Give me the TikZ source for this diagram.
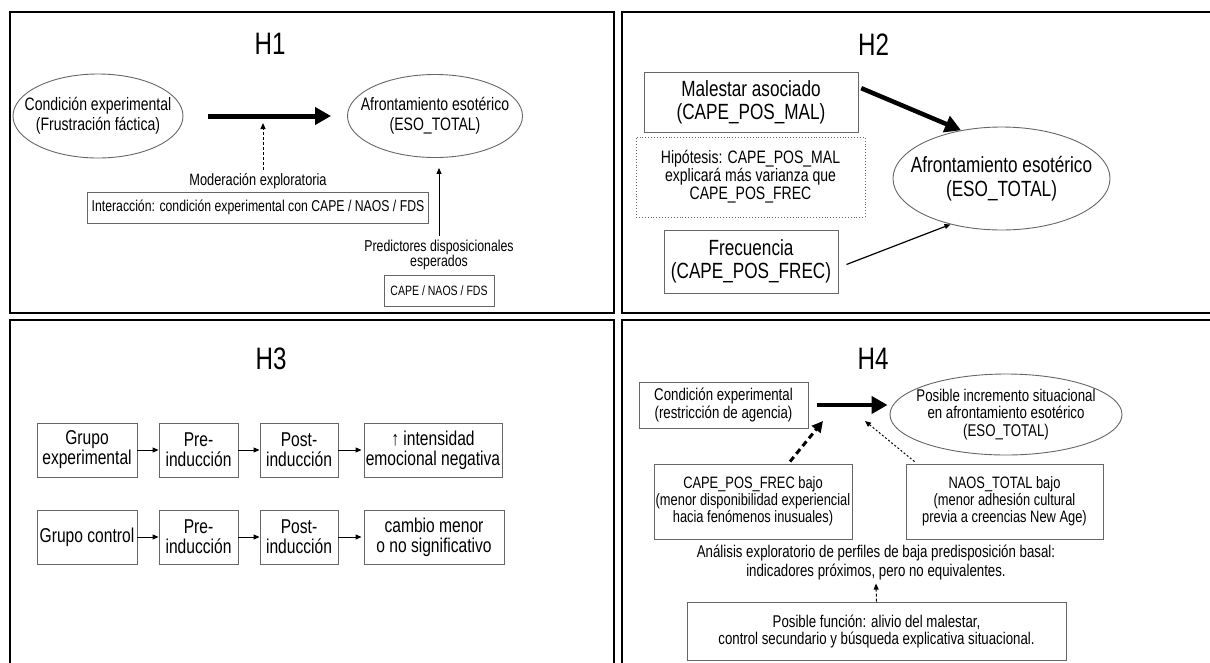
\documentclass[tikz,border=0pt]{standalone}
\usepackage{fontspec}
\setmainfont{Liberation Sans}[FakeStretch=0.78]
\usetikzlibrary{arrows.meta,shapes.geometric}

\begin{document}
\begin{tikzpicture}[
			x=1pt, y=-1pt,
			panel/.style={draw, line width=2.5pt},
			title/.style={font=\fontsize{31}{31}\selectfont},
			box/.style={draw=black!60, line width=0.9pt, align=center, inner sep=0pt},
			oval/.style={ellipse, draw=black!60, line width=0.9pt, inner sep=0pt},
			ovaltext/.style={align=center, inner sep=0pt},
			arr/.style={-{Triangle[length=6pt,width=5pt]}, line width=1pt},
			bigarr/.style={-{Triangle[length=16pt,width=17pt]}, line width=5pt},
			dasharr/.style={arr, dash pattern=on 3pt off 2pt},
			thickdash/.style={-{Triangle[length=11pt,width=11pt]}, line width=3pt, dash pattern=on 6pt off 4pt}
		]
		\useasboundingbox (0,0) rectangle (1210,662);
		\clip (0,0) rectangle (1210,662);

		% H1
		\draw[panel] (10,12) rectangle (614,313);
		\node[title] (t1) at (270,44) {H1};
		\node[oval, minimum width=170pt, minimum height=84pt] (cond1) at (98,116) {};
		\node[ovaltext, font=\fontsize{18}{20}\selectfont] (cond1txt) at (cond1) {Condición experimental\\(Frustración fáctica)};
		\node[oval, minimum width=175pt, minimum height=83pt] (eso1) at (435,116) {};
		\node[ovaltext, font=\fontsize{18}{20}\selectfont] (eso1txt) at (eso1) {Afrontamiento esotérico\\(ESO\_TOTAL)};
		\draw[bigarr, shorten <=25pt, shorten >=16pt] (cond1) -- (eso1);
		\node[font=\fontsize{16.4}{18}\selectfont] (mod1) at (258,181) {Moderación exploratoria};
		\coordinate (mod1tip) at (263,123);
		\draw[dasharr] (mod1.north -| mod1tip) -- (mod1tip);
		\node[box, minimum width=341pt, minimum height=31pt, font=\fontsize{15.7}{18}\selectfont] (int1) at (258,207.5) {Interacción: condición experimental con CAPE / NAOS / FDS};
		\node[align=center, font=\fontsize{15.8}{15}\selectfont] (pred1) at (439,254.5) {Predictores disposicionales\\esperados};
		\draw[arr, shorten >=10pt] (pred1.north) -- (pred1.north |- eso1.south);
		\node[box, minimum width=110pt, minimum height=31pt, font=\fontsize{13.5}{15}\selectfont] (cape1) at (439,290.5) {CAPE / NAOS / FDS};

		% H2
		\draw[panel] (622,12) rectangle (1240,313);
		\node[title] (t2) at (873.5,45) {H2};
		\node[box, minimum width=214pt, minimum height=60pt, font=\fontsize{22}{23}\selectfont] (mal2) at (751,102) {Malestar asociado\\(CAPE\_POS\_MAL)};
		\node[box, dotted, minimum width=229pt, minimum height=80pt, font=\fontsize{18}{18}\selectfont] (hyp2) at (750.5,177) {Hipótesis: CAPE\_POS\_MAL\\explicará más varianza que\\CAPE\_POS\_FREC};
		\node[box, minimum width=174pt, minimum height=63pt, font=\fontsize{22}{23}\selectfont] (frec2) at (751,261.5) {Frecuencia\\(CAPE\_POS\_FREC)};
		\node[oval, minimum width=217pt, minimum height=103pt] (eso2) at (1001.5,178.5) {};
		\node[ovaltext, font=\fontsize{22}{24}\selectfont] (eso2txt) at (eso2) {Afrontamiento esotérico\\(ESO\_TOTAL)};
		\draw[bigarr, line width=4.5pt, shorten <=3pt] ([yshift=15pt]mal2.east) -- (eso2.130);
		\draw[arr, line width=1.2pt] ([xshift=8pt,yshift=-3pt]frec2.east) -- (eso2.222);

		% H3
		\draw[panel] (10,320) rectangle (614,700);
		\node[title] (t3) at (271,359) {H3};
		\begin{scope}[every node/.style={box, minimum height=54pt, font=\fontsize{20}{20}\selectfont}]
			\node[minimum width=100pt] (g1) at (87,450) {Grupo\\experimental};
			\node[minimum width=79pt] (pre1) at (198.5,450) {Pre-\\inducción};
			\node[minimum width=78pt] (post1) at (299,450) {Post-\\inducción};
			\node[minimum width=138pt] (res1) at (433,450) {↑ intensidad\\emocional negativa};
			\node[minimum width=100pt] (g2) at (87,537) {Grupo control};
			\node[minimum width=79pt] (pre2) at (198.5,537) {Pre-\\inducción};
			\node[minimum width=78pt] (post2) at (299,537) {Post-\\inducción};
			\node[minimum width=140pt] (res2) at (434,537) {cambio menor\\o no significativo};
		\end{scope}
		\foreach \a/\b in {g1/pre1, pre1/post1, g2/pre2, pre2/post2}
		\draw[arr] (\a) -- (\b);
		\foreach \a/\b in {post1/res1, post2/res2}
		\draw[arr, shorten >=2pt] (\a) -- (\b);

		% H4
		\draw[panel] (622,320) rectangle (1240,700);
		\node[title] (t4) at (873,359) {H4};
		\node[box, minimum width=169pt, minimum height=46pt, font=\fontsize{17}{18}\selectfont] (cond4) at (723.5,405) {Condición experimental\\(restricción de agencia)};
		\node[oval, minimum width=232pt, minimum height=81pt] (inc4) at (1006,414.5) {};
		\node[ovaltext, font=\fontsize{17}{17.5}\selectfont] (inc4txt) at (inc4) {Posible incremento situacional\\en afrontamiento esotérico\\(ESO\_TOTAL)};
		\draw[bigarr, line width=4pt, shorten <=9pt, shorten >=2pt] (cond4.east) -- (cond4.east -| inc4.west);
		\node[box, minimum width=198pt, minimum height=75pt, font=\fontsize{16.5}{17}\selectfont] (cape4) at (753,501.5) {CAPE\_POS\_FREC bajo\\(menor disponibilidad experiencial\\hacia fenómenos inusuales)};
		\node[box, minimum width=197pt, minimum height=75pt, font=\fontsize{16.5}{17}\selectfont] (naos4) at (1004.5,501.5) {NAOS\_TOTAL bajo\\(menor adhesión cultural\\previa a creencias New Age)};
		\coordinate (cape4tip) at (823,421);
		\coordinate (naos4tip) at (865,421);
		\draw[thickdash] ([xshift=37pt,yshift=2pt]cape4.north) -- (cape4tip);
		\draw[arr, dash pattern=on 2pt off 2pt] ([xshift=-90pt,yshift=2pt]naos4.north) -- (naos4tip);
		\node[align=center, font=\fontsize{17}{19}\selectfont] (anal4) at (876,562.5) {Análisis exploratorio de perfiles de baja predisposición basal:\\indicadores próximos, pero no equivalentes.};
		\node[box, minimum width=379pt, minimum height=58pt, font=\fontsize{17}{17}\selectfont] (fun4) at (876.5,631) {Posible función: alivio del malestar,\\control secundario y búsqueda explicativa situacional.};
		\draw[dasharr] (fun4.north) -- (anal4.south);
	\end{tikzpicture}
\end{document}
